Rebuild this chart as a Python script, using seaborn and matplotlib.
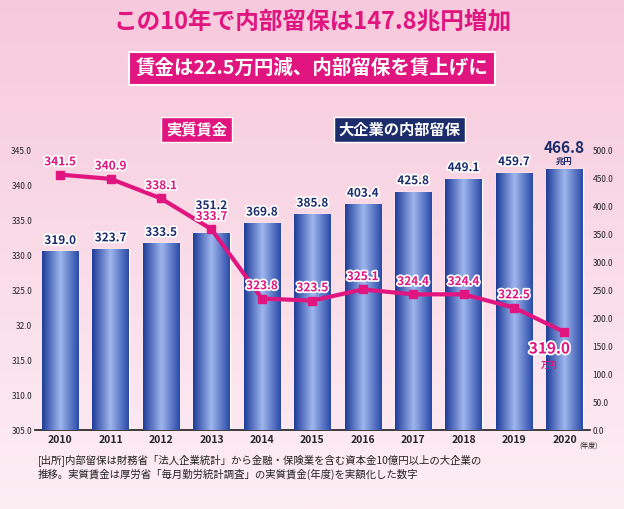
import matplotlib
matplotlib.use("Agg")
import matplotlib.pyplot as plt
import matplotlib.patheffects as pe
import seaborn as sns
import numpy as np
import pandas as pd

years = ["2010","2011","2012","2013","2014","2015","2016","2017","2018","2019","2020"]
reserves = [319.0,323.7,333.5,351.2,369.8,385.8,403.4,425.8,449.1,459.7,466.8]
wages = [341.5,340.9,338.1,333.7,323.8,323.5,325.1,324.4,324.4,322.5,319.0]
left_ticks = [305,310,315,320,325,330,335,340,345]
left_labels = ["305.0","310.0","315.0","32.0","325.0","330.0","335.0","340.0","345.0"]
right_ticks = list(range(0,501,50))

sns.set_theme(style="white")
plt.rcParams['font.family'] = ['Noto Sans CJK JP', 'DejaVu Sans']
MAG = "#e0157f"
NAVY = "#1d2d6b"
stroke = [pe.withStroke(linewidth=2.5, foreground="white")]

fig = plt.figure(figsize=(6.24,5.09), dpi=100)
bg = fig.add_axes([0,0,1,1], zorder=-10)
grad = np.linspace(0,1,256).reshape(-1,1)
bg.imshow(grad, cmap=matplotlib.colors.LinearSegmentedColormap.from_list("b",["#f7c9dc","#fdeef4"]), aspect="auto", extent=[0,1,0,1])
bg.axis("off")

ax2 = fig.add_axes([0.056,0.155,0.889,0.55])
df = pd.DataFrame({"year":years,"res":reserves})
sns.barplot(data=df, x="year", y="res", ax=ax2, color="#3b5cc0", width=0.72, zorder=2)
ax2.set_ylim(0,500)
ax2.set_facecolor("none")
cmapb = matplotlib.colors.LinearSegmentedColormap.from_list("bar",["#1f3d99","#9fb6ee","#2a4aa8"])
hg = np.linspace(0,1,100).reshape(1,-1)
for p in list(ax2.patches):
    x0,y0,w,h = p.get_x(),p.get_y(),p.get_width(),p.get_height()
    im = ax2.imshow(hg, cmap=cmapb, aspect="auto", extent=[x0,x0+w,y0,y0+h], zorder=3)
    im.set_clip_path(p)
ax2.set_xlim(-0.5,10.5)
for i,v in enumerate(reserves[:-1]):
    off = 38 if i == 3 else 8
    ax2.text(i, v+off, f"{v:.1f}", ha="center", va="bottom", color=NAVY, fontsize=8.5, fontweight="bold", zorder=6, path_effects=stroke)
ax2.text(10, reserves[-1]+22, f"{reserves[-1]:.1f}", ha="center", va="bottom", color=NAVY, fontsize=11, fontweight="bold")
ax2.text(10, reserves[-1]+6, "兆円", ha="center", va="bottom", color=NAVY, fontsize=6, fontweight="bold")
ax2.set_xlabel(""); ax2.set_ylabel("")
ax2.tick_params(axis="x", labelsize=7.5, length=0)
for l in ax2.get_xticklabels(): l.set_fontweight("bold")
for s in ["top","left","right"]: ax2.spines[s].set_visible(False)
ax2.text(10.3, -32, "(年度)", fontsize=5, ha="left")

ax = ax2.twinx()
ax.plot(range(11), wages, color=MAG, lw=3, marker="s", ms=6, zorder=5)
ax.set_ylim(305,345)
ax.grid(False)
for s in ["top","left","right","bottom"]: ax.spines[s].set_visible(False)
for i,v in enumerate(wages[:-1]):
    ax.text(i, v+0.9, f"{v:.1f}", ha="center", va="bottom", color=MAG, fontsize=8.5, fontweight="bold", zorder=6, path_effects=stroke)
ax.text(9.7, wages[-1]-1.2, f"{wages[-1]:.1f}", ha="center", va="top", color=MAG, fontsize=11, fontweight="bold", path_effects=stroke)
ax.text(9.7, wages[-1]-4.2, "万円", ha="center", va="top", color=MAG, fontsize=6, fontweight="bold")

# left axis: wages; right axis: reserves
ax.yaxis.tick_left()
ax.set_yticks(left_ticks); ax.set_yticklabels(left_labels, fontsize=6)
ax2.yaxis.tick_right()
ax2.set_yticks(right_ticks)
ax2.set_yticklabels([f"{t:.1f}" for t in right_ticks], fontsize=6)
ax.tick_params(axis="y", length=0, pad=2)
ax2.tick_params(axis="y", length=0, pad=2)

fig.text(0.5,0.955,"この10年で内部留保は147.8兆円増加", ha="center", va="center", color=MAG, fontsize=17, fontweight="bold")
fig.text(0.5,0.865,"賃金は22.5万円減、内部留保を賃上げに", ha="center", va="center", color="white", fontsize=14, fontweight="bold",
         bbox=dict(boxstyle="square,pad=0.35", fc=MAG, ec="white", lw=1.5))
fig.text(0.315,0.745,"実質賃金", ha="center", va="center", color="white", fontsize=11, fontweight="bold",
         bbox=dict(boxstyle="square,pad=0.3", fc=MAG, ec="white"))
fig.text(0.64,0.745,"大企業の内部留保", ha="center", va="center", color="white", fontsize=11, fontweight="bold",
         bbox=dict(boxstyle="square,pad=0.3", fc=NAVY, ec="white"))
fig.text(0.06,0.082,"[出所]内部留保は財務省「法人企業統計」から金融・保険業を含む資本金10億円以上の大企業の\n推移。実質賃金は厚労省「毎月勤労統計調査」の実質賃金(年度)を実額化した数字",
         ha="left", va="center", color="#222222", fontsize=7.5, linespacing=1.3)
fig.savefig("out.png", dpi=100)
